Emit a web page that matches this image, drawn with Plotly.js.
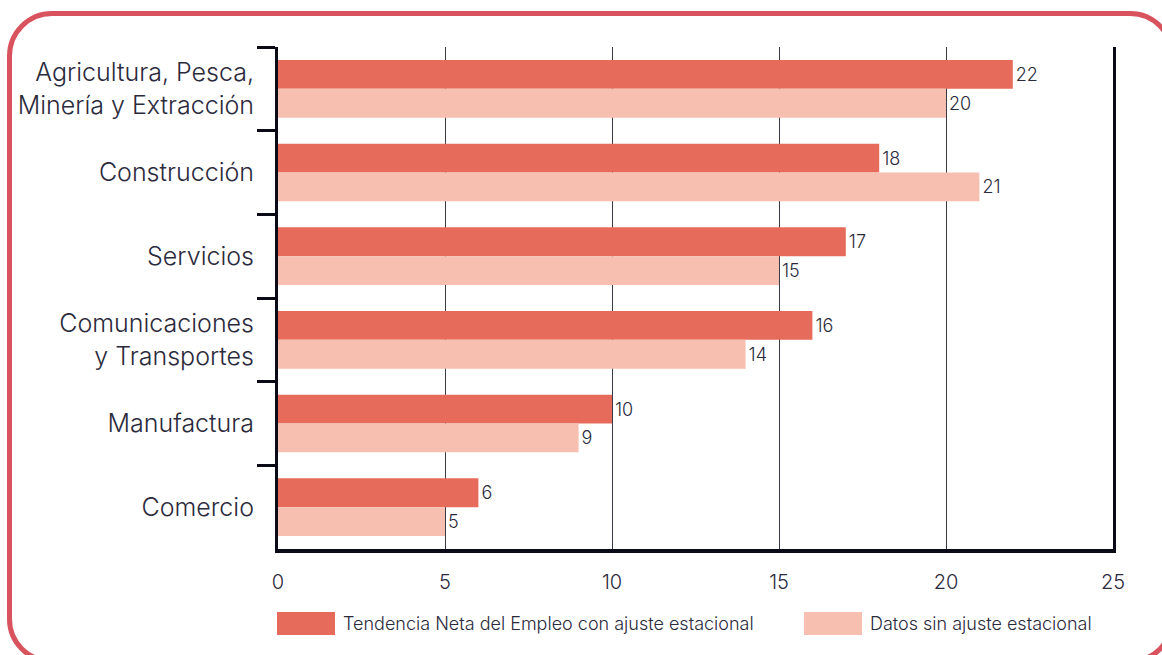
<!DOCTYPE html>
<html>
<head>
<meta charset="utf-8">
<script src="https://cdn.plot.ly/plotly-3.0.1.min.js"></script>
<style>
  html, body { margin:0; padding:0; background:#fff; overflow:hidden; }
  #frame { position:absolute; left:7px; top:11px; width:1158px; height:643px;
           border:5px solid #D9535F; border-radius:45px; }
  #chart { position:absolute; left:0; top:0; width:1162px; height:655px; }
</style>
</head>
<body>
<div id="frame"></div>
<div id="chart"></div>
<script>
const categories = [
  "Agricultura, Pesca,<br>Minería y Extracción",
  "Construcción",
  "Servicios",
  "Comunicaciones<br>y Transportes",
  "Manufactura",
  "Comercio"
];
const seriesNames = [
  "Tendencia Neta del Empleo con ajuste estacional",
  "Datos sin ajuste estacional"
];
const adjusted = [22, 18, 17, 16, 10, 6];
const unadjusted = [20, 21, 15, 14, 9, 5];
const xTicks = [0, 5, 10, 15, 20, 25];

const colors = ["#E66B5B", "#F6BFB0"];
const textColor = "#2B2A3C";
const fontFam = "Inter, Liberation Sans, Arial, sans-serif";
const W = 300;

const traces = [adjusted, unadjusted].map((vals, i) => ({
  type: "bar",
  orientation: "h",
  name: seriesNames[i],
  y: categories,
  x: vals,
  marker: { color: colors[i] },
  text: vals.map(String),
  textposition: "outside",
  cliponaxis: false,
  textfont: { family: fontFam, size: 18, color: textColor, weight: W },
  hoverinfo: "x+y",
  showlegend: false
}));

// custom legend (wide swatches) built from series names
const L = 278, R = 1113, T = 47, B = 549;
const px = v => (v - L) / (R - L);
const py = v => (B - v) / (B - T);
const legendX = [277, 804];
const shapes = [];
const annotations = [];
seriesNames.forEach((nm, i) => {
  shapes.push({
    type: "rect", xref: "paper", yref: "paper",
    x0: px(legendX[i]), x1: px(legendX[i] + 58),
    y0: py(635), y1: py(612),
    fillcolor: colors[i], line: { width: 0 }
  });
  annotations.push({
    xref: "paper", yref: "paper",
    x: px(legendX[i] + 64), y: py(623.5),
    xanchor: "left", yanchor: "middle",
    text: nm, showarrow: false,
    font: { family: fontFam, size: 18, color: textColor, weight: W }
  });
});

const layout = {
  width: 1162, height: 655,
  margin: { l: L, r: 1162 - R, t: T, b: 655 - B, pad: 0 },
  paper_bgcolor: "rgba(0,0,0,0)",
  plot_bgcolor: "rgba(0,0,0,0)",
  barmode: "group",
  bargap: 0.31,
  bargroupgap: 0,
  showlegend: false,
  font: { family: fontFam, color: textColor, weight: W },
  xaxis: {
    range: [0, 25],
    tickvals: xTicks,
    ticktext: xTicks.map(String),
    showgrid: true, gridcolor: "#3A3A46", gridwidth: 1,
    zeroline: false,
    showline: true, linecolor: "#0B0B18", linewidth: 4,
    ticks: "",
    ticklabelstandoff: 12,
    tickfont: { family: fontFam, size: 20, color: textColor, weight: W },
    fixedrange: true
  },
  yaxis: {
    type: "category",
    autorange: "reversed",
    showline: true, mirror: true, linecolor: "#0B0B18", linewidth: 3,
    ticks: "outside", tickson: "boundaries", ticklen: 18, tickwidth: 3, tickcolor: "#0B0B18",
    ticklabelstandoff: 16,
    showgrid: false, zeroline: false,
    tickfont: { family: fontFam, size: 25, color: textColor, weight: W },
    fixedrange: true
  },
  shapes: shapes,
  annotations: annotations
};

Plotly.newPlot("chart", traces, layout, { displayModeBar: false, staticPlot: true });
</script>
</body>
</html>
